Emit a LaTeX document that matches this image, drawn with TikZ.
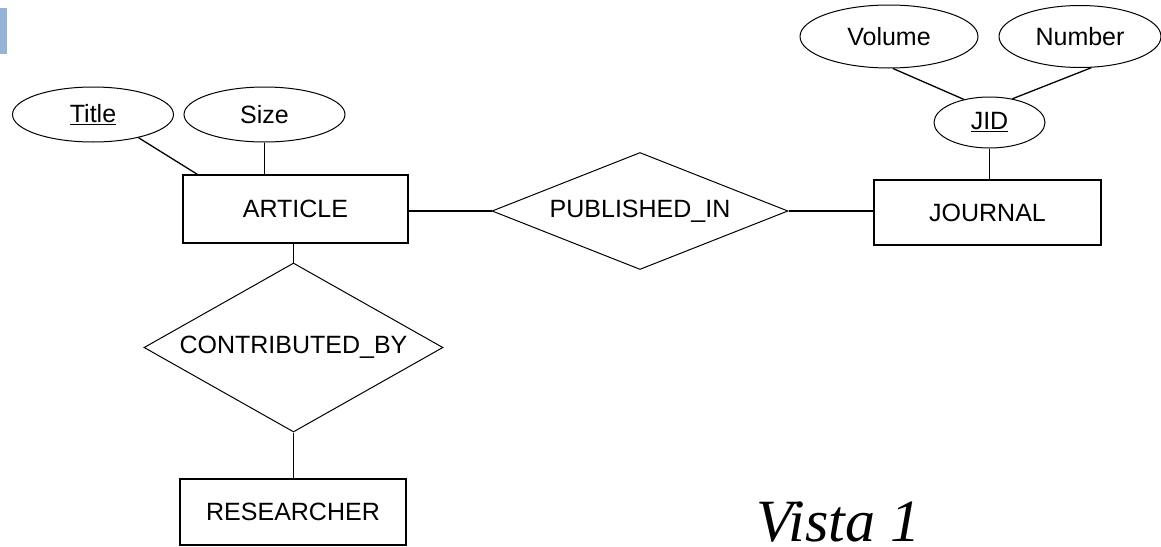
\documentclass[tikz,border=0pt]{standalone}
\usepackage{fontspec}
\setmainfont{Liberation Sans}
\newfontfamily\vistafont{Liberation Serif}
\usetikzlibrary{shapes.geometric}
\definecolor{barblue}{HTML}{95B3D7}
\begin{document}
\begin{tikzpicture}[x=1pt,y=-1pt,
  every node/.style={font=\fontsize{25}{30}\selectfont, inner sep=0pt},
  entity/.style={draw, line width=1.3pt, rectangle},
  attr/.style={draw, line width=1pt, ellipse},
  rel/.style={draw, line width=1pt, diamond},
  conn/.style={line width=1.3pt}]
\useasboundingbox (0,0) rectangle (1161,546);
\fill[barblue] (0,8) rectangle (7,54);
% entities
\node[entity, minimum width=225pt, minimum height=68pt] (article) at (295.5,209) {ARTICLE};
\node[entity, minimum width=227pt, minimum height=65pt] (journal) at (987.5,212.5) {JOURNAL};
\node[entity, minimum width=226pt, minimum height=66pt] (researcher) at (293,512) {RESEARCHER};
% relationships
\node[rel, minimum width=296pt, minimum height=117pt, aspect=2.53] (pub) at (640,211) {PUBLISHED\_IN};
\node[rel, minimum width=299pt, minimum height=169pt, aspect=1.77] (cb) at (293.5,347.5) {CONTRIBUTED\_BY};
% attributes
\node[attr, minimum width=161pt, minimum height=55pt] (title) at (93,114.5) {\underline{Title}};
\node[attr, minimum width=161pt, minimum height=55pt] (size) at (264.5,114.5) {Size};
\node[attr, minimum width=111pt, minimum height=51pt] (jid) at (989.5,122.5) {\underline{JID}};
\node[attr, minimum width=178pt, minimum height=63pt] (volume) at (889,36.5) {Volume};
\node[attr, minimum width=162pt, minimum height=62pt] (number) at (1080,36.5) {Number};
% connectors
\draw[conn] (title.-27) -- ([xshift=15pt]article.north west);
\draw[conn] (size.south) -- (size.south |- article.north);
\draw[conn] (cb.north) -- (cb.north |- article.south);
\draw[conn] (cb.south) -- (cb.south |- researcher.north);
\draw[conn] (pub.west) -- (pub.west -| article.east);
\draw[conn] (pub.east) -- (pub.east -| journal.west);
\draw[conn] (jid.south) -- (jid.south |- journal.north);
\draw[conn] (volume.-83) -- (jid.138);
\draw[conn] (number.-70) -- (jid.46);
% caption
\node[font=\vistafont\itshape\fontsize{60}{70}\selectfont, anchor=base west, text depth=0pt] (vista) at (756,541) {Vista 1};
\end{tikzpicture}
\end{document}
